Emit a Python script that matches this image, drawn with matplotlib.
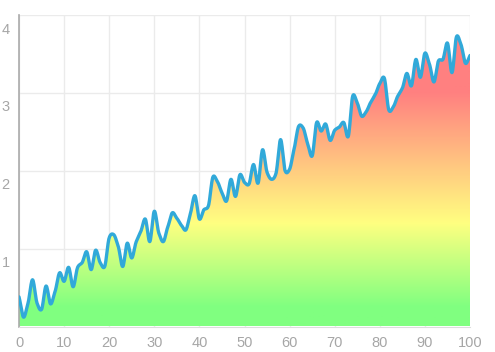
import numpy as np
import matplotlib
matplotlib.use('Agg')
from matplotlib import pyplot as plt
from matplotlib.colors import LinearSegmentedColormap
from matplotlib.transforms import ScaledTranslation

font = {'family': 'sans-serif', 'sans-serif': ['Liberation Sans'], 'size': 10.5}
matplotlib.rc('font', **font)

xValues = list(range(0, 101))
yValues = [0.38, 0.12, 0.30, 0.60, 0.30, 0.22, 0.52, 0.29, 0.45, 0.69,
           0.58, 0.76, 0.51, 0.76, 0.82, 0.96, 0.73, 0.98, 0.82, 0.77,
           1.14, 1.18, 1.03, 0.77, 1.07, 0.88, 1.09, 1.22, 1.38, 1.09,
           1.48, 1.20, 1.09, 1.28, 1.46, 1.39, 1.30, 1.24, 1.45, 1.68,
           1.38, 1.50, 1.55, 1.92, 1.86, 1.72, 1.61, 1.89, 1.67, 1.95,
           1.85, 1.83, 2.08, 1.84, 2.27, 1.98, 1.89, 1.97, 2.40, 2.00,
           2.02, 2.28, 2.57, 2.55, 2.35, 2.19, 2.62, 2.51, 2.60, 2.39,
           2.52, 2.56, 2.62, 2.44, 2.96, 2.87, 2.70, 2.76, 2.88, 2.98,
           3.12, 3.19, 2.78, 2.82, 2.96, 3.06, 3.25, 3.09, 3.43, 3.20,
           3.51, 3.37, 3.14, 3.41, 3.43, 3.64, 3.26, 3.72, 3.62, 3.38,
           3.48]
xTicks = list(range(0, 101, 10))
yTicks = [1, 2, 3, 4]


def smooth(x, y, steps=12, tension=0.4):
	# cubic hermite through the points, similar to a bezier line tension
	x = np.asarray(x, float)
	y = np.asarray(y, float)
	m = np.zeros_like(y)
	m[1:-1] = (y[2:] - y[:-2]) / 2.0
	m[0] = y[1] - y[0]
	m[-1] = y[-1] - y[-2]
	m = m * tension / 0.5
	xs, ys = [], []
	t = np.linspace(0, 1, steps, endpoint=False)
	for i in range(len(x) - 1):
		h00 = 2 * t**3 - 3 * t**2 + 1
		h10 = t**3 - 2 * t**2 + t
		h01 = -2 * t**3 + 3 * t**2
		h11 = t**3 - t**2
		xs.extend(x[i] + t * (x[i + 1] - x[i]))
		ys.extend(h00 * y[i] + h10 * m[i] + h01 * y[i + 1] + h11 * m[i + 1])
	xs.append(x[-1])
	ys.append(y[-1])
	return np.array(xs), np.array(ys)


fig = plt.figure(figsize=(4.95, 3.52), dpi=100)
ax = fig.add_axes([19 / 495, (352 - 326.5) / 352, 451 / 495, 311.5 / 352])
ax.set_xlim(0, 100)
ax.set_ylim(0, 4)

sx, sy = smooth(xValues, yValues)

# gradient fill under the line
cmap = LinearSegmentedColormap.from_list('grad', [
	(0.0, '#80ff80'), (0.06, '#80ff80'), (0.33, '#ffff80'),
	(0.75, '#ff8080'), (1.0, '#ff8080')])
grad = np.linspace(0, 1, 256).reshape(-1, 1)
img = ax.imshow(grad, extent=[0, 100, 0, 4], origin='lower', aspect='auto',
	cmap=cmap, zorder=1)
poly = ax.fill_between(sx, sy, 0, color='none', lw=0)
img.set_clip_path(poly.get_paths()[0], transform=ax.transData)

ax.plot(sx, sy, color='#31a9d9', lw=2.4, zorder=3, solid_capstyle='round')

ax.set_xticks(xTicks)
ax.set_yticks(yTicks)
ax.grid(True, color='#ebebeb', lw=1)
ax.set_axisbelow(True)
ax.tick_params(length=0, colors='#a6a6a6', labelsize=10.5)
ax.tick_params(axis='y', pad=6)
ax.tick_params(axis='x', pad=7)
# y labels sit just below their grid lines
shift = ScaledTranslation(-1 / 100, -13 / 100, fig.dpi_scale_trans)
for lab in ax.get_yticklabels():
	lab.set_transform(lab.get_transform() + shift)
for side in ['top', 'right']:
	ax.spines[side].set_visible(False)
ax.spines['left'].set_color('#aaaaaa')
ax.spines['bottom'].set_color('#dddddd')
ax.spines['left'].set_linewidth(1.2)

fig.savefig('out.png', dpi=100)
